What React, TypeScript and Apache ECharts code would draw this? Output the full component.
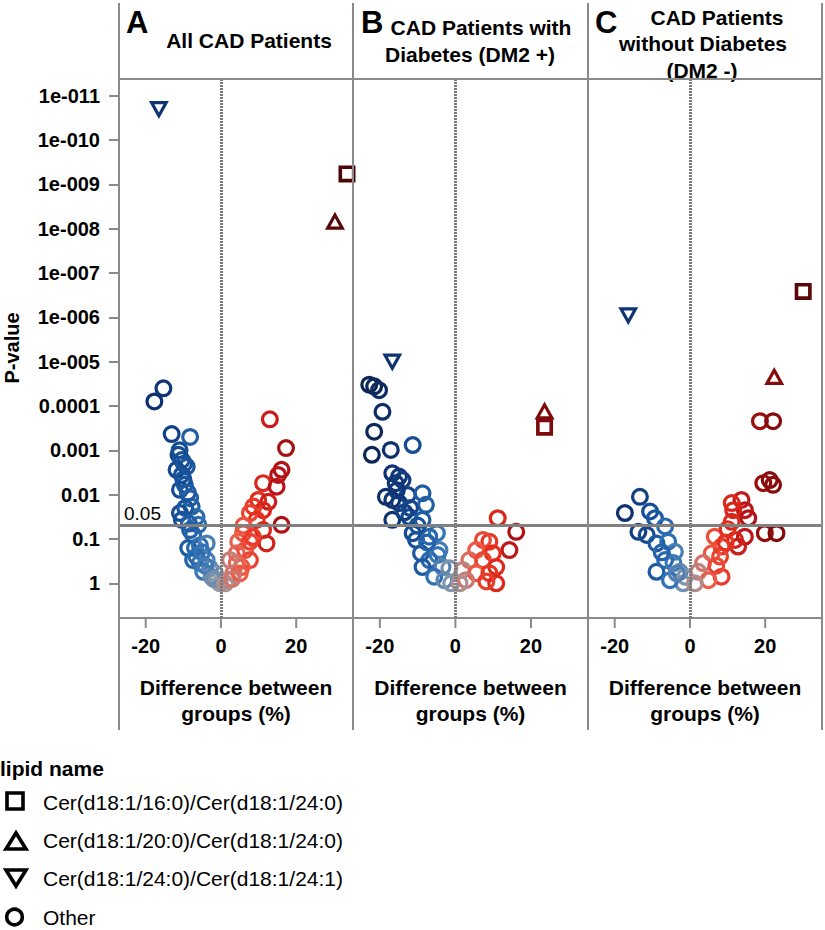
import React, { useEffect, useRef } from 'react';
import * as echarts from 'echarts';

// ---------- data ----------
const PANEL_LETTERS = ['A', 'B', 'C'];
const PANEL_TITLES = [
  ['All CAD Patients'],
  ['CAD Patients with', 'Diabetes (DM2 +)'],
  ['CAD Patients', 'without Diabetes', '(DM2 -)'],
];
const LEGEND_TITLE = 'lipid name';
const LIPIDS = [
  'Cer(d18:1/16:0)/Cer(d18:1/24:0)',
  'Cer(d18:1/20:0)/Cer(d18:1/24:0)',
  'Cer(d18:1/24:0)/Cer(d18:1/24:1)',
  'Other',
];
const X_TITLE = ['Difference between', 'groups (%)'];
const Y_TITLE = 'P-value';
const X_TICKS = [-20, 0, 20];
const Y_TICK_EXP = [-11, -10, -9, -8, -7, -6, -5, -4, -3, -2, -1, 0];
const Y_TICK_LABELS = ['1e-011', '1e-010', '1e-009', '1e-008', '1e-007', '1e-006', '1e-005', '0.0001', '0.001', '0.01', '0.1', '1'];
const THRESHOLD = 0.05;

// [difference %, p-value] per panel
const CER16_24 = [[33.5, 5.8e-10], [23.6, 3.0e-4], [30.1, 2.6e-7]];
const CER20_24 = [[30.3, 6.6e-9], [23.6, 1.26e-4], [22.4, 2.1e-5]];
const CER24_241 = [[-16.5, 2.1e-11], [-16.7, 1.05e-5], [-16.4, 9.5e-7]];

const A_OTHER = [
  [-15.3, 4.0e-5], [-17.7, 7.9e-5], [-13.1, 4.3e-4], [-8.2, 5.0e-4], [-11.3, 1.26e-3], [-10.4, 1.66e-3],
  [-9.1, 2.34e-3], [-11.8, 2.75e-3], [-10.4, 3.6e-3], [-9.6, 6.0e-3], [-10.9, 7.8e-3], [-8.2, 0.012],
  [-7.8, 0.0186], [-10.9, 0.026], [-10.4, 0.037], [-6.5, 0.032], [-6.0, 0.048], [-8.2, 0.063],
  [-7.4, 0.081], [-6.9, 0.16], [-8.7, 0.16], [-5.6, 0.14], [-3.8, 0.126], [-7.4, 0.30], [-5.6, 0.35],
  [-3.8, 0.30], [-2.9, 0.46], [-1.6, 0.59], [-4.7, 0.55], [-1.1, 0.85], [-0.3, 1.0], [-2.5, 0.71],
  [-6.5, 0.25], [-11.0, 1.0e-3], [-9.8, 2.0e-3], [-10.0, 4.5e-3], [-8.8, 9.0e-3], [-9.5, 0.02],
  [-8.5, 0.045], [-5.0, 0.2], [-4.2, 0.4], [-2.0, 0.8],
  [13.0, 2.0e-4], [17.3, 8.9e-4], [16.1, 2.75e-3], [15.2, 3.6e-3], [11.2, 5.5e-3], [14.8, 6.6e-3],
  [9.9, 0.0132], [12.6, 0.0145], [8.6, 0.0186], [11.2, 0.0224], [7.7, 0.026], [9.5, 0.037],
  [16.1, 0.048], [11.2, 0.063], [12.1, 0.126], [5.9, 0.074], [4.6, 0.115], [7.7, 0.115], [6.4, 0.178],
  [4.2, 0.21], [7.7, 0.30], [5.5, 0.43], [3.3, 0.59], [1.9, 0.85], [1.1, 1.0], [4.2, 0.35], [2.4, 0.30],
  [6.0, 0.05], [8.5, 0.09], [5.0, 0.6], [3.0, 0.8],
];
const B_OTHER = [
  [-22.8, 3.3e-5], [-21.5, 3.6e-5], [-20.2, 4.4e-5], [-19.3, 1.35e-4], [-21.5, 3.8e-4], [-17.1, 9.8e-4],
  [-11.3, 7.6e-4], [-22.1, 1.26e-3], [-16.7, 3.3e-3], [-14.9, 3.9e-3], [-15.8, 5.5e-3], [-14.0, 4.7e-3],
  [-18.4, 0.0112], [-12.6, 0.0102], [-8.7, 9.3e-3], [-16.7, 0.0132], [-14.9, 0.0155], [-7.8, 0.017],
  [-16.7, 0.037], [-12.2, 0.032], [-8.7, 0.037], [-4.9, 0.074], [-11.3, 0.074], [-10.4, 0.105],
  [-6.9, 0.089], [-4.2, 0.178], [-9.1, 0.21], [-6.9, 0.30], [-4.7, 0.23], [-8.7, 0.43], [-3.4, 0.43],
  [-5.6, 0.71], [-1.6, 0.46], [-2.9, 0.85], [-1.1, 1.0], [-13.5, 0.025], [-10.0, 0.05], [-7.5, 0.12],
  [-12.0, 0.02], [-15.5, 8e-3],
  [11.2, 0.034], [16.1, 0.069], [14.3, 0.178], [9.0, 0.115], [7.3, 0.105], [5.5, 0.178], [9.9, 0.21],
  [3.7, 0.30], [7.3, 0.30], [10.8, 0.43], [1.9, 0.50], [5.5, 0.59], [2.8, 0.85], [9.0, 0.59],
  [10.8, 1.0], [1.1, 1.0], [8.2, 0.91],
];
const C_OTHER = [
  [-13.3, 0.0112], [-17.3, 0.026], [-10.6, 0.024], [-9.3, 0.034], [-6.6, 0.052], [-13.7, 0.069],
  [-11.5, 0.081], [-8.9, 0.126], [-5.8, 0.115], [-4.0, 0.195], [-8.9, 0.55], [-6.6, 0.30], [-4.4, 0.35],
  [-2.7, 0.55], [-1.8, 1.0], [-5.3, 0.85], [-1.3, 0.71], [-7.5, 0.2], [-3.5, 0.6],
  [18.6, 2.2e-4], [22.1, 2.2e-4], [19.5, 5.5e-3], [21.2, 4.7e-3], [22.1, 6.0e-3], [13.7, 0.0132],
  [14.6, 0.0224], [11.5, 0.0224], [15.5, 0.034], [11.1, 0.041], [19.9, 0.074], [23.0, 0.074],
  [14.6, 0.089], [12.0, 0.105], [12.8, 0.148], [8.4, 0.148], [6.6, 0.089], [5.8, 0.21], [8.0, 0.25],
  [3.5, 0.35], [2.2, 0.55], [8.4, 0.71], [4.9, 0.85], [1.3, 1.0], [11.1, 0.0155], [10.0, 0.06],
  [9.5, 0.12], [7.0, 0.4],
];
const OTHERS = [A_OTHER, B_OTHER, C_OTHER];

// diverging colour scale over difference (%)
const COLOR_MIN = -35;
const COLOR_MAX = 35;
const COLOR_STOPS = [
  '#030d22', '#05142f', '#082048', '#0c2c63', '#0f377a', '#17529a', '#3274b8', '#9aa0a8',
  '#f05a45', '#e42d1c', '#b81318', '#930c0c', '#760909', '#5a0707', '#450505',
];

// ---------- layout ----------
const FONT = '"Liberation Sans", Arial, Helvetica, sans-serif';
const GRID_LEFT = [119, 353, 588];
const GRID_W = [234, 235, 234];
const GRID_TOP = 79;
const GRID_H = 539;
const FRAME = '#8a8a8a';

const RING = 'path://M0,-10 A10,10 0 1,1 0,10 A10,10 0 1,1 0,-10 Z M0,-6.4 A6.4,6.4 0 1,0 0,6.4 A6.4,6.4 0 1,0 0,-6.4 Z';
const SQUARE = 'path://M-8,-8 L8,-8 L8,8 L-8,8 Z M-4.6,-4.6 L-4.6,4.6 L4.6,4.6 L4.6,-4.6 Z';
const TRI_UP = 'path://M-10,8 L10,8 L0,-10 Z M-4.56,4.8 L0,-3.41 L4.56,4.8 Z';
const TRI_DOWN = 'path://M-10,-8 L10,-8 L0,10 Z M-4.56,-4.8 L0,3.41 L4.56,-4.8 Z';

const toXY = (pts: number[][]) => pts.map(([d, p]) => [d, Math.log10(p)]);

export default function App() {
  const ref = useRef<HTMLDivElement>(null);
  useEffect(() => {
    if (!ref.current) return;
    const chart = echarts.init(ref.current, null, { renderer: 'svg' });

    const grids: any[] = [];
    const xAxes: any[] = [];
    const yAxes: any[] = [];
    const series: any[] = [];
    const itemStyle = { opacity: 1 };

    for (let i = 0; i < 3; i++) {
      grids.push({ left: GRID_LEFT[i], top: GRID_TOP, width: GRID_W[i], height: GRID_H });
      xAxes.push({
        type: 'value', gridIndex: i, min: -27.1, max: 35.1, position: 'bottom',
        axisLine: { show: true, onZero: false, lineStyle: { color: FRAME, width: 2 } }, splitLine: { show: false },
        axisTick: { show: false },
        axisLabel: { show: true, customValues: X_TICKS, margin: 18, color: '#000', fontSize: 20, fontWeight: 'bold', fontFamily: FONT },
      });
      yAxes.push({
        type: 'value', gridIndex: i, inverse: true, min: -11.377, max: 0.783, position: 'left',
        axisLine: { show: false, onZero: false }, splitLine: { show: false },
        axisTick: { show: i === 0, customValues: Y_TICK_EXP, length: 10, lineStyle: { color: FRAME, width: 2 } },
        axisLabel: {
          show: i === 0, customValues: Y_TICK_EXP, margin: 19, color: '#000', fontSize: 20, fontWeight: 'bold', fontFamily: FONT,
          formatter: (v: number) => {
            const k = Y_TICK_EXP.indexOf(Math.round(v));
            return k >= 0 ? Y_TICK_LABELS[k] : '';
          },
        },
      });
      series.push({
        type: 'scatter', name: LIPIDS[3], xAxisIndex: i, yAxisIndex: i, itemStyle,
        symbol: RING, symbolSize: 18, data: toXY(OTHERS[i]),
        markLine: {
          silent: true, symbol: 'none', label: { show: false },
          data: [
            { xAxis: 0, lineStyle: { color: '#7a7a7a', width: 3, type: [2, 1] } },
            { yAxis: Math.log10(THRESHOLD), lineStyle: { color: '#808080', width: 3, type: 'solid' } },
          ],
        },
      });
      series.push({ type: 'scatter', name: LIPIDS[0], xAxisIndex: i, yAxisIndex: i, itemStyle, symbol: SQUARE, symbolSize: 17, data: toXY([CER16_24[i]]) });
      series.push({ type: 'scatter', name: LIPIDS[1], xAxisIndex: i, yAxisIndex: i, itemStyle, symbol: TRI_UP, symbolSize: [20, 18], data: toXY([CER20_24[i]]) });
      series.push({ type: 'scatter', name: LIPIDS[2], xAxisIndex: i, yAxisIndex: i, itemStyle, symbol: TRI_DOWN, symbolSize: [20, 18], data: toXY([CER24_241[i]]) });
    }

    const txt = (x: number, y: number, text: string, size: number, weight = 'bold', align = 'center', extra: any = {}) => ({
      type: 'text', x, y, silent: true, ...extra,
      style: { text, fontSize: size, fontWeight: weight, fontFamily: FONT, fill: '#000', align, verticalAlign: 'middle' },
    });
    const line = (x1: number, y1: number, x2: number, y2: number, color = FRAME) => ({
      type: 'line', silent: true, z: 10, shape: { x1, y1, x2, y2 }, style: { stroke: color, lineWidth: 2 },
    });

    const graphic: any[] = [];
    [119, 353, 588, 822].forEach((x) => graphic.push(line(x, 3, x, 730)));
    graphic.push(line(119, 79, 822, 79));

    const letterX = [126, 361, 595];
    PANEL_LETTERS.forEach((l, i) => graphic.push(txt(letterX[i], 22, l, 31, 'bold', 'left')));
    graphic.push(txt(249, 40, PANEL_TITLES[0][0], 21));
    graphic.push(txt(481, 27, PANEL_TITLES[1][0], 21));
    graphic.push(txt(470, 54, PANEL_TITLES[1][1], 21));
    graphic.push(txt(717, 17, PANEL_TITLES[2][0], 21));
    graphic.push(txt(703, 43, PANEL_TITLES[2][1], 21));
    graphic.push(txt(702, 70, PANEL_TITLES[2][2], 21));

    graphic.push(txt(124, 513, String(THRESHOLD), 19, 'normal', 'left'));

    graphic.push(txt(12, 348, Y_TITLE, 20, 'bold', 'center', { rotation: Math.PI / 2 }));
    const centers = [236, 470.5, 705];
    centers.forEach((c) => {
      graphic.push(txt(c, 687, X_TITLE[0], 21));
      graphic.push(txt(c, 713, X_TITLE[1], 21));
    });

    graphic.push(txt(0, 768, LEGEND_TITLE, 21, 'bold', 'left'));
    const lgStyle = { fill: 'none', stroke: '#000', lineWidth: 3.6, lineJoin: 'miter' };
    graphic.push({ type: 'rect', silent: true, shape: { x: 7, y: 793, width: 16, height: 16 }, style: lgStyle });
    graphic.push({ type: 'polygon', silent: true, shape: { points: [[6, 849], [26, 849], [16, 833]] }, style: lgStyle });
    graphic.push({ type: 'polygon', silent: true, shape: { points: [[6, 870], [26, 870], [16, 886]] }, style: lgStyle });
    graphic.push({ type: 'circle', silent: true, shape: { cx: 14.5, cy: 917, r: 7.8 }, style: lgStyle });
    const lgY = [802, 840, 878, 917];
    LIPIDS.forEach((t, i) => graphic.push(txt(43, lgY[i], t, 21, 'normal', 'left')));

    const option: any = {
      animation: false,
      backgroundColor: '#fff',
      grid: grids,
      xAxis: xAxes,
      yAxis: yAxes,
      visualMap: {
        show: false, type: 'continuous', dimension: 0, min: COLOR_MIN, max: COLOR_MAX,
        seriesIndex: series.map((_, k) => k),
        inRange: { color: COLOR_STOPS },
      },
      series,
      graphic,
    };
    chart.setOption(option);

    // x-axis tick marks placed through the axes' own scales
    const bottomY = GRID_TOP + GRID_H;
    const tickMarks: any[] = [];
    for (let i = 0; i < 3; i++) {
      X_TICKS.forEach((v) => {
        const res: any = chart.convertToPixel({ xAxisIndex: i } as any, v);
        const px = Array.isArray(res) ? res[0] : res;
        if (typeof px === 'number' && isFinite(px)) tickMarks.push(line(px, bottomY, px, bottomY + 10));
      });
    }
    chart.setOption({ graphic: graphic.concat(tickMarks) });

    return () => chart.dispose();
  }, []);

  return <div ref={ref} style={{ position: 'absolute', left: 0, top: 0, width: 825, height: 930 }} />;
}
